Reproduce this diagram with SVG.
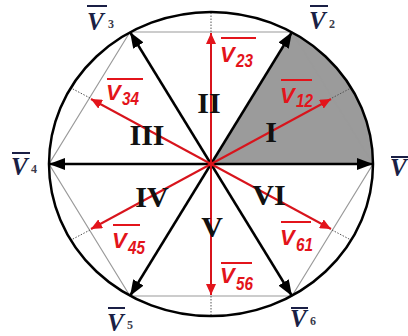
<svg xmlns="http://www.w3.org/2000/svg" width="408" height="336" viewBox="0 0 408 336">
<defs>
<style>
.hex{stroke:#9a9a9a;stroke-width:1.2;fill:none}
.dot{stroke:#555;stroke-width:1;stroke-dasharray:1.5 1.5;fill:none}
.blk{stroke:#000;stroke-width:2.5;fill:none;marker-end:url(#ab)}
.red{stroke:#d8141c;stroke-width:2;fill:none;marker-end:url(#ar)}
.vl{font-family:"Liberation Serif",serif;font-weight:bold;font-style:italic;font-size:25px;fill:#1a1f45}
.vs{font-family:"Liberation Serif",serif;font-weight:bold;font-size:12px;fill:#3a3a4a}
.ol{stroke:#1a1f45;stroke-width:2}
.rl{font-family:"Liberation Sans",sans-serif;font-weight:bold;font-style:italic;font-size:22px;fill:#e3141b}
.rs{font-family:"Liberation Sans",sans-serif;font-weight:bold;font-style:italic;font-size:19px;fill:#e3141b}
.rol{stroke:#e3141b;stroke-width:2}
.rn{font-family:"Liberation Serif",serif;font-weight:bold;font-size:30px;fill:#111;text-anchor:middle}
</style>
<marker id="ab" viewBox="0 0 16 12" refX="16" refY="6" markerWidth="16" markerHeight="12" markerUnits="userSpaceOnUse" orient="auto"><path d="M0,0 L16,6 L0,12 z" fill="#000"/></marker>
<marker id="ar" viewBox="0 0 11 10" refX="11" refY="5" markerWidth="11" markerHeight="10" markerUnits="userSpaceOnUse" orient="auto"><path d="M0,0 L11,5 L0,10 z" fill="#e3141b"/></marker>
</defs>
<rect width="408" height="336" fill="#fff"/>
<g id="sector-I">
<path d="M211,164 L373,164 A162,152 0 0 0 292,32 Z" fill="#9b9b9b"/>
</g>
<g id="hexagon">
<polygon class="hex" points="373,164 292,32 130,32 49,164 130,296 292,296"/>
<line class="dot" x1="211" y1="32" x2="211" y2="12"/>
<line class="dot" x1="211" y1="296" x2="211" y2="316"/>
<line class="dot" x1="332" y1="98" x2="351" y2="88"/>
<line class="dot" x1="90" y1="98" x2="71" y2="88"/>
<line class="dot" x1="90" y1="230" x2="71" y2="240"/>
<line class="dot" x1="332" y1="230" x2="351" y2="240"/>
</g>
<g id="circle">
<ellipse cx="211" cy="164" rx="162" ry="152" fill="none" stroke="#000" stroke-width="2.5"/>
</g>
<g id="connectors">
<line class="blk" x1="211" y1="164" x2="373" y2="164"/>
<line class="blk" x1="211" y1="164" x2="292" y2="32"/>
<line class="blk" x1="211" y1="164" x2="130" y2="32"/>
<line class="blk" x1="211" y1="164" x2="49" y2="164"/>
<line class="blk" x1="211" y1="164" x2="130" y2="296"/>
<line class="blk" x1="211" y1="164" x2="292" y2="296"/>
<line class="red" x1="211" y1="164" x2="211" y2="33"/>
<line class="red" x1="211" y1="164" x2="211" y2="295"/>
<line class="red" x1="211" y1="164" x2="331" y2="99"/>
<line class="red" x1="211" y1="164" x2="91" y2="99"/>
<line class="red" x1="211" y1="164" x2="91" y2="229"/>
<line class="red" x1="211" y1="164" x2="331" y2="229"/>
<circle cx="211" cy="164" r="2.5" fill="#d8141c"/>
</g>
<g id="V1"><text class="vl" x="390" y="176">V</text><line class="ol" x1="391" y1="157" x2="408" y2="157"/></g>
<g id="V2"><text class="vl" x="309" y="29">V</text><text class="vs" x="329" y="28">2</text><line class="ol" x1="310" y1="6" x2="328" y2="6"/></g>
<g id="V3"><text class="vl" x="87" y="30">V</text><text class="vs" x="108" y="28">3</text><line class="ol" x1="87" y1="6" x2="107" y2="6"/></g>
<g id="V4"><text class="vl" x="11" y="175">V</text><text class="vs" x="31" y="173">4</text><line class="ol" x1="12" y1="153" x2="30" y2="153"/></g>
<g id="V5"><text class="vl" x="107" y="331">V</text><text class="vs" x="127" y="329">5</text><line class="ol" x1="108" y1="308" x2="125" y2="308"/></g>
<g id="V6"><text class="vl" x="290" y="327">V</text><text class="vs" x="310" y="325">6</text><line class="ol" x1="291" y1="308" x2="308" y2="308"/></g>
<g id="V23"><text class="rl" x="220" y="62">V</text><text class="rs" x="236" y="67" textLength="17" lengthAdjust="spacingAndGlyphs">23</text><line class="rol" x1="221" y1="38" x2="256" y2="38"/></g>
<g id="V12"><text class="rl" x="280" y="103">V</text><text class="rs" x="296" y="107" textLength="17" lengthAdjust="spacingAndGlyphs">12</text><line class="rol" x1="281" y1="80" x2="312" y2="80"/></g>
<g id="V34"><text class="rl" x="106" y="100">V</text><text class="rs" x="122" y="105" textLength="17" lengthAdjust="spacingAndGlyphs">34</text><line class="rol" x1="107" y1="79" x2="143" y2="79"/></g>
<g id="V45"><text class="rl" x="112" y="248">V</text><text class="rs" x="128" y="254" textLength="17" lengthAdjust="spacingAndGlyphs">45</text><line class="rol" x1="113" y1="225" x2="140" y2="225"/></g>
<g id="V61"><text class="rl" x="280" y="245">V</text><text class="rs" x="296" y="251" textLength="17" lengthAdjust="spacingAndGlyphs">61</text><line class="rol" x1="281" y1="222" x2="311" y2="222"/></g>
<g id="V56"><text class="rl" x="220" y="283">V</text><text class="rs" x="236" y="290" textLength="17" lengthAdjust="spacingAndGlyphs">56</text><line class="rol" x1="221" y1="263" x2="252" y2="263"/></g>
<g id="sectors">
<text class="rn" x="271" y="142">I</text>
<text class="rn" x="209" y="113">II</text>
<text class="rn" x="147" y="145">III</text>
<text class="rn" x="152" y="207">IV</text>
<text class="rn" x="212" y="237">V</text>
<text class="rn" x="269" y="205">VI</text>
</g>
</svg>
